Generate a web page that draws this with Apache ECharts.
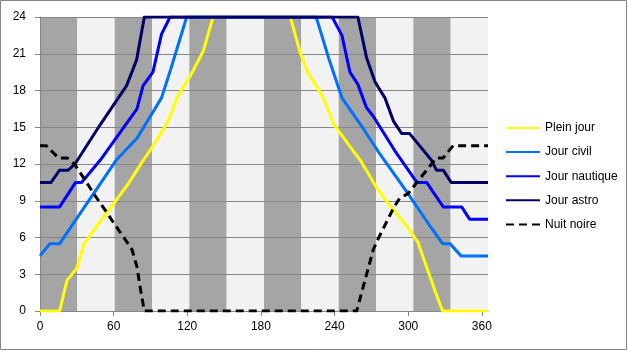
<!DOCTYPE html>
<html>
<head>
<meta charset="utf-8">
<script src="https://cdn.jsdelivr.net/npm/echarts@6/dist/echarts.min.js"></script>
<style>
html,body{margin:0;padding:0;background:#fff;}
#chart{width:628px;height:351px;}
</style>
</head>
<body>
<div id="chart"></div>
<script>
// ---- data (day of year, hours) ----
var months = ['jan','fév','mar','avr','mai','juin','juil','août','sep','oct','nov','déc'];
var xTicks = [0, 60, 120, 180, 240, 300, 360];
var seriesNames = ['Plein jour', 'Jour civil', 'Jour nautique', 'Jour astro', 'Nuit noire'];

var pleinJour = [[0,0],[16,0],[22,2.5],[30,3.5],[36,5.5],[49,7.3],[61,8.9],[72,10.4],[84,12.3],[91,13.3],[104,15.4],[112,17.5],[122,19.1],[133,21.2],[141,24],[204,24],[212,21.1],[218,19.5],[228,17.9],[233,16.9],[239,15.3],[255,13.1],[261,12.3],[267,11.3],[274,10.1],[285,8.6],[299,6.9],[308,5.6],[315,3.6],[322,1.6],[328,0],[365,0]];
var jourCivil = [[0,4.5],[8,5.5],[16,5.5],[62,12.3],[79,14.1],[99,17.4],[107,19.9],[119.5,24],[225,24],[235,20.7],[246,17.4],[262,15.1],[277,12.8],[299,9.7],[318,6.9],[328,5.5],[334,5.5],[343,4.5],[365,4.5]];
var jourNautique = [[0,8.5],[16,8.5],[29,10.5],[34,10.5],[49,12.3],[79,16.5],[84,18.4],[92,19.5],[99,22.6],[106,24],[238,24],[246,22.5],[252.5,19.5],[259,18.5],[266,16.6],[271.5,15.9],[289,13.1],[307,10.5],[315,10.5],[328.5,8.5],[343.5,8.5],[350,7.5],[365,7.5]];
var jourAstro = [[0,10.5],[9,10.5],[16,11.5],[23,11.5],[28.5,12.0],[49,15.2],[70.6,18.4],[78.7,20.5],[85,24],[259,24],[266,20.7],[273,18.7],[281,17.4],[288,15.5],[294.6,14.5],[301,14.5],[319,12.3],[323,11.5],[328.5,11.5],[335,10.5],[365,10.5]];
var nuitNoire = [[0,13.5],[5,13.5],[15,12.5],[22,12.5],[28,12.0],[36,10.8],[45,9.4],[54,8.1],[62,6.9],[69,5.9],[75,5.0],[79,3.6],[82,1.7],[85,0],[258,0],[271.5,5.0],[275.5,5.9],[288,8.4],[293,9.2],[300,9.6],[319,12.0],[323,12.5],[328.5,12.5],[336.6,13.5],[365,13.5]];

// ---- chart ----
var FONT = 'Liberation Sans';
var chart = echarts.init(document.getElementById('chart'), null, {renderer: 'canvas'});
var yMax = 24;
var lineColors = ['#ffff00', '#0070ff', '#0000ff', '#000066', '#000000'];
var lineData = [pleinJour, jourCivil, jourNautique, jourAstro, nuitNoire];

var series = [{
  type: 'bar',
  xAxisIndex: 1,
  yAxisIndex: 0,
  z: 0,
  silent: true,
  barCategoryGap: '0%',
  barGap: '0%',
  data: months.map(function (m, i) {
    return {value: yMax, itemStyle: {color: i % 2 === 0 ? '#a5a5a5' : '#f2f2f2'}};
  }),
  legendHoverLink: false
}];
seriesNames.forEach(function (name, i) {
  series.push({
    name: name,
    type: 'line',
    xAxisIndex: 0,
    yAxisIndex: 0,
    data: lineData[i],
    symbol: 'none',
    z: 3,
    lineStyle: {
      color: lineColors[i],
      width: 3,
      type: i === 4 ? [8, 5] : 'solid',
      cap: 'butt',
      join: 'round'
    },
    itemStyle: {color: lineColors[i]}
  });
});

chart.setOption({
  animation: false,
  backgroundColor: '#ffffff',
  textStyle: {fontFamily: FONT},
  graphic: [{
    type: 'rect',
    shape: {x: 0.5, y: 0.5, width: 626, height: 349},
    style: {fill: 'none', stroke: '#868686', lineWidth: 1},
    silent: true
  }],
  grid: {left: 40, right: 140, top: 17, bottom: 40, containLabel: false},
  legend: {
    orient: 'vertical',
    left: 500,
    top: 117,
    itemWidth: 34,
    itemHeight: 14,
    itemGap: 12.1,
    data: seriesNames,
    itemStyle: {opacity: 0},
    textStyle: {fontFamily: FONT, fontSize: 12, color: '#000'}
  },
  xAxis: [{
    type: 'value',
    min: 0,
    max: 365,
    interval: 60,
    z: 1,
    axisLine: {show: true, lineStyle: {color: '#868686', width: 1}},
    axisTick: {show: true, length: 5, inside: false, customValues: xTicks, lineStyle: {color: '#868686'}},
    axisLabel: {customValues: xTicks, fontFamily: FONT, fontSize: 12, color: '#000', margin: 10},
    splitLine: {show: false}
  }, {
    type: 'category',
    data: months,
    show: false,
    boundaryGap: true
  }],
  yAxis: [{
    type: 'value',
    min: 0,
    max: 24,
    interval: 3,
    z: 1,
    axisLine: {show: true, lineStyle: {color: '#868686', width: 1}},
    axisTick: {show: true, length: 5, inside: false, lineStyle: {color: '#868686'}},
    axisLabel: {fontFamily: FONT, fontSize: 12, color: '#000', margin: 14},
    splitLine: {show: true, lineStyle: {color: '#868686', width: 1}}
  }],
  series: series
});
</script>
</body>
</html>
